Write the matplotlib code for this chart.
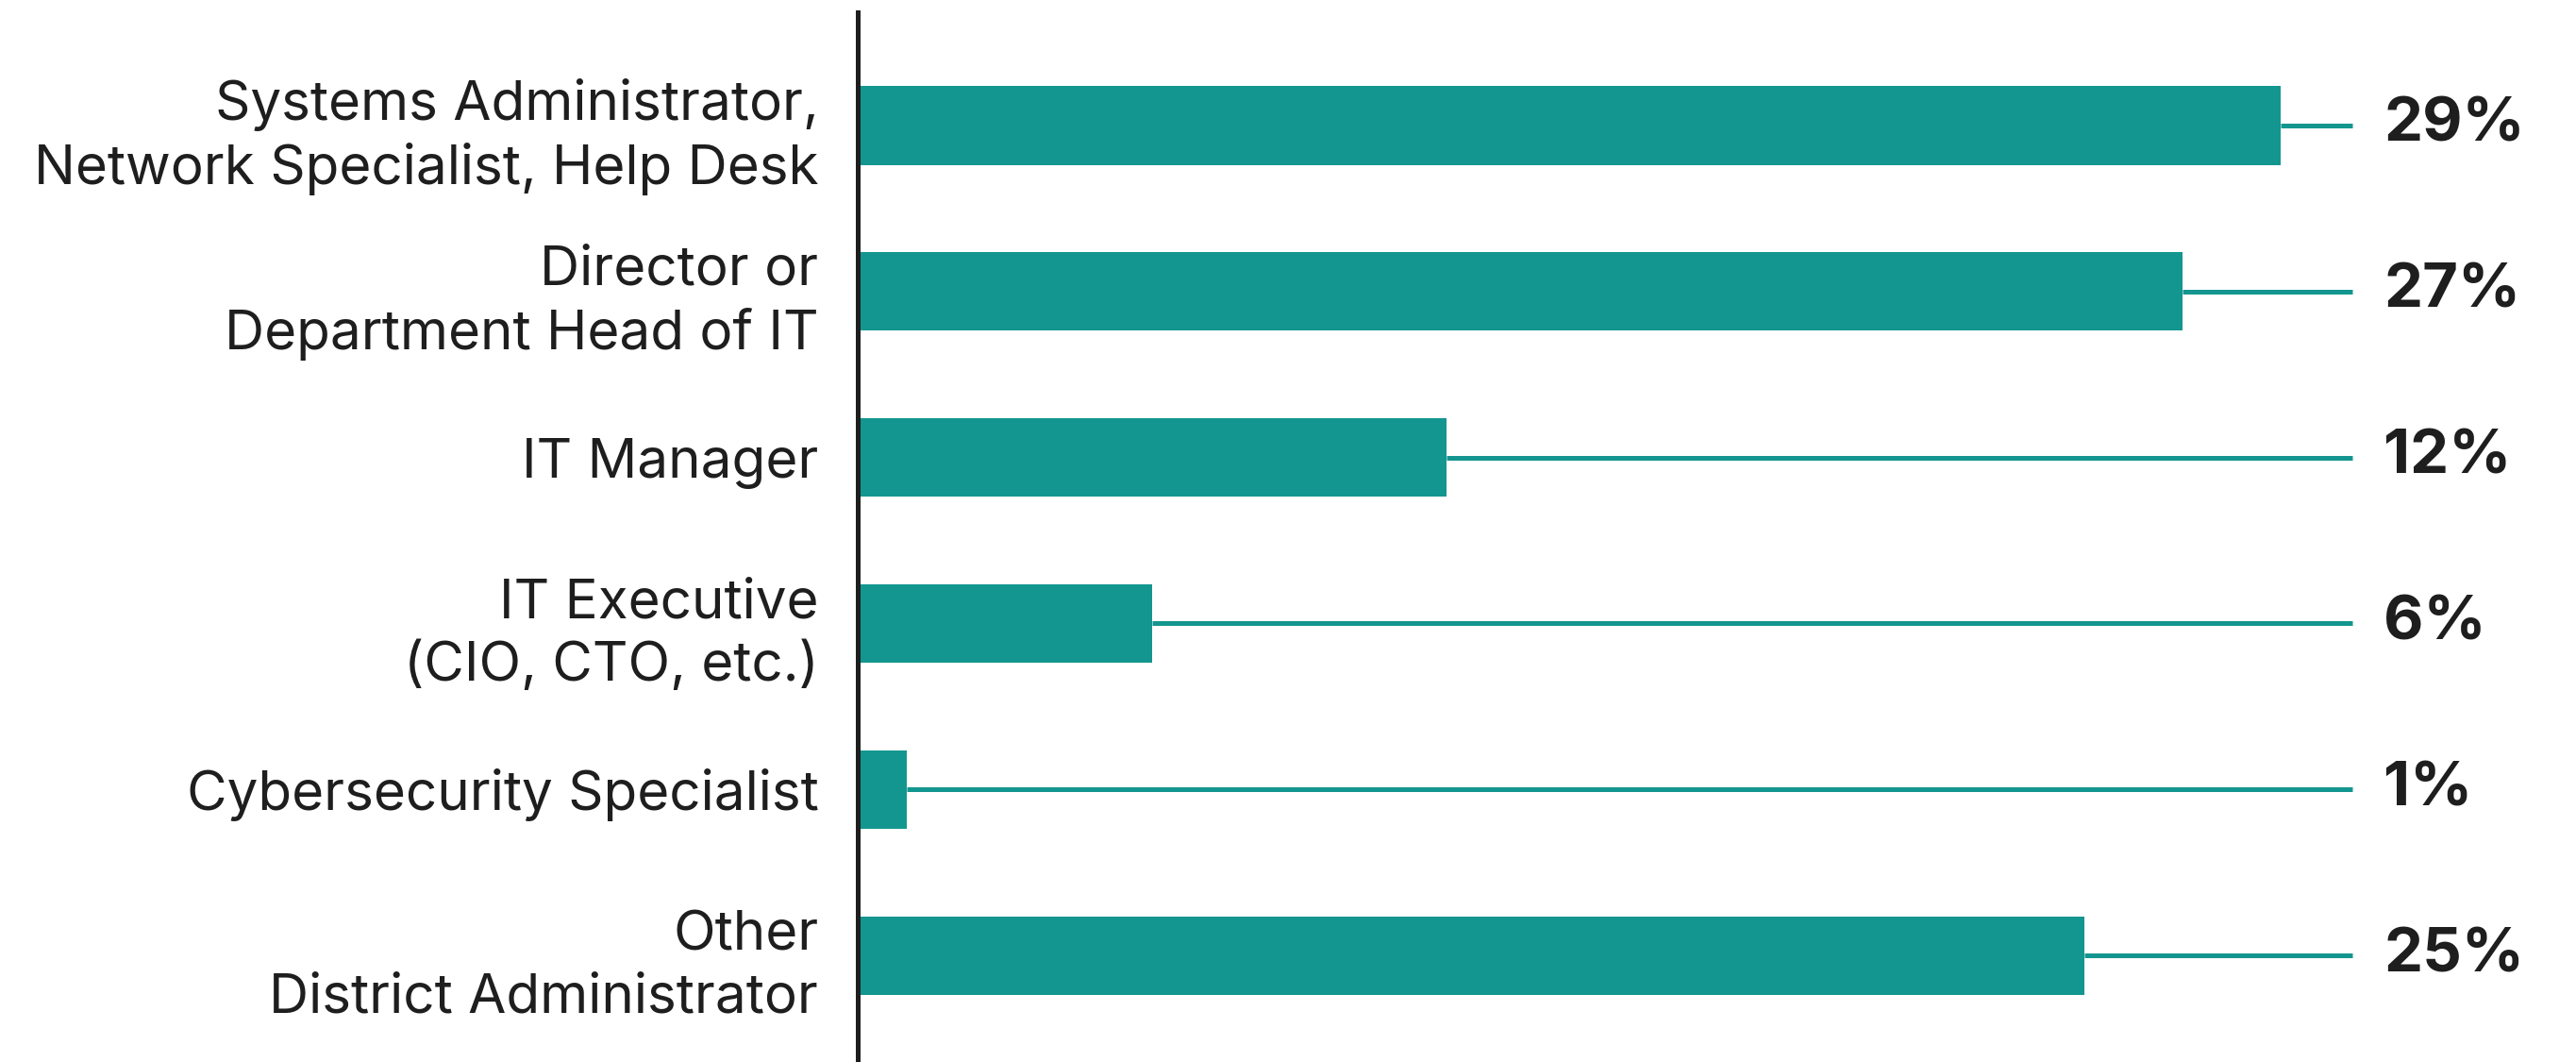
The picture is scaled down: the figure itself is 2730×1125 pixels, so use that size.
import matplotlib.pyplot as plt
import numpy as np

plt.rcParams['font.family'] = ['Inter', 'DejaVu Sans']

# 职位分布 百分比
roles = ['Systems Administrator,\nNetwork Specialist, Help Desk',
         'Director or\nDepartment Head of IT',
         'IT Manager',
         'IT Executive\n(CIO, CTO, etc.)',
         'Cybersecurity Specialist',
         'Other\nDistrict Administrator']
share = [29, 27, 12, 6, 1, 25]
share_labels = ['29%', '27%', '12%', '6%', '1%', '25%']

teal = '#13968f'
ink = '#1e1e1e'

W, H = 2730, 1125
fig = plt.figure(figsize=(W / 100, H / 100), dpi=100)
# 坐标轴以像素定位 左边为柱子起点
ax = fig.add_axes([909 / W, 0, 1 - 909 / W, 1 - 13 / H])

y = np.arange(len(roles))
ax.barh(y, share, height=0.476, color=teal, zorder=2)

line_end = 30.46  # 引线终点
for yi, v, lab in zip(y, share, share_labels):
    ax.plot([v, line_end], [yi, yi], color=teal, lw=3.6, solid_capstyle='butt', zorder=1)
    ax.text(31.1, yi, lab, va='center', ha='left', fontsize=47,
            fontweight='bold', color=ink)

ax.set_xlim(0, (W - 909) / 52)
ax.set_ylim(5.64, -0.68)

ax.set_yticks(y)
ax.set_yticklabels(roles, fontsize=42, color=ink, linespacing=1.28)
ax.tick_params(axis='y', length=0, pad=30)
ax.set_xticks([])

for s in ['top', 'right', 'bottom']:
    ax.spines[s].set_visible(False)
ax.spines['left'].set_linewidth(3.6)
ax.spines['left'].set_color(ink)
ax.spines['left'].set_zorder(3)

fig.savefig('out.png', dpi=100)
